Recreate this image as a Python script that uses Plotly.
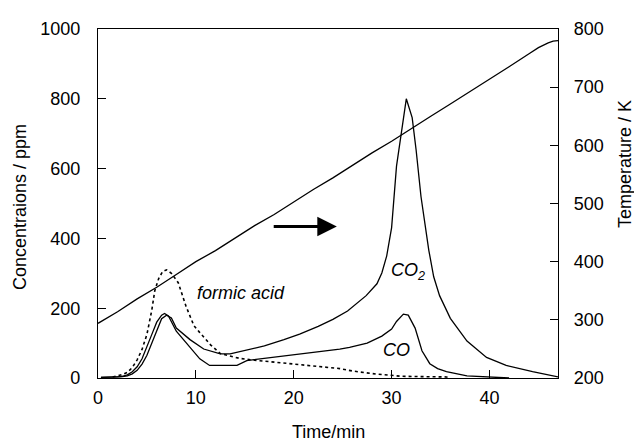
import plotly.graph_objects as go

# ---- data ----
t_co2 = [0.3, 1, 2, 2.5, 3, 3.5, 4, 4.5, 5, 5.5, 6, 6.5, 7, 7.5, 8, 9.4, 10.8, 12.5, 13.5,
         15.0, 17.0, 19.0, 20.6, 22.5, 24, 25.5, 27.4, 28.5, 29.0, 29.5, 30.0, 30.5, 31.0,
         31.5, 32.1, 32.5, 33.0, 33.8, 34.3, 34.9, 36.0, 37.7, 39.7, 41.7, 44.4, 46.5, 47]
co2 = [2, 2, 3, 4, 6, 12, 22, 40, 65, 100, 140, 170, 180, 172, 143, 110, 83, 69, 69,
       78, 92, 110, 126, 148, 168, 192, 236, 270, 301, 350, 431, 607, 705,
       800, 746, 654, 520, 366, 290, 236, 171, 106, 59, 36, 18, 5, 3]

t_co = [0.3, 1, 2, 2.5, 3, 3.5, 4, 4.5, 5, 5.5, 6, 6.5, 6.8, 7.2, 8, 9.4, 10.4, 11.4, 12.5,
        14.2, 15.2, 17.5, 19.6, 20.6, 22.5, 24.7, 25.7, 27.5, 29.0, 30.0, 30.5, 31.2, 31.7,
        32.4, 33.1, 33.9, 34.7, 35.6, 37.7, 39.7, 41, 42]
co = [2, 2, 3, 5, 9, 18, 32, 55, 88, 125, 160, 180, 185, 178, 134, 87, 55, 36, 36,
      36, 50, 58, 64, 69, 75, 83, 88, 100, 120, 140, 162, 183, 180,
      143, 78, 41, 27, 18, 6, 3, 1, 0]

t_fa = [1.5, 2, 2.5, 3, 3.5, 4, 4.5, 5, 5.5, 5.8, 6.2, 6.6, 7.0, 7.5, 8.2, 9.0, 9.8, 10.4,
        11.5, 12.5, 13.5, 14.5, 16, 17.5, 19.6, 20.6, 22, 23.5, 24.7, 26, 27, 28.5, 29.8,
        31, 33, 35.6, 36]
formic = [3, 6, 10, 16, 30, 52, 82, 125, 195, 250, 285, 305, 310, 300, 273, 205, 150, 130,
          95, 70, 62, 56, 51, 47, 42, 40, 36, 31, 27, 20, 16, 11, 8,
          5, 4, 3, 0]

t_temp = [0, 2, 4, 6, 8, 10, 12, 14, 16, 18, 20, 22, 24, 26, 28, 30, 32, 34, 36, 38, 40,
          42, 44, 45, 46, 46.5, 47]
temp = [294, 314, 336, 356, 378, 400, 419, 440, 462, 481, 503, 524, 544, 566, 587, 607, 629,
        650, 671, 692, 714, 735, 757, 768, 776, 779, 780]

x_ticks = [0, 10, 20, 30, 40]
y_ticks = [0, 200, 400, 600, 800, 1000]
y2_ticks = [200, 300, 400, 500, 600, 700, 800]

FONT = "Liberation Sans, Arial, Helvetica, sans-serif"
BLACK = "#000000"

fig = go.Figure()
fig.add_trace(go.Scatter(x=t_co2, y=co2, mode="lines", line=dict(color=BLACK, width=1.3),
                         name="CO2", showlegend=False))
fig.add_trace(go.Scatter(x=t_co, y=co, mode="lines", line=dict(color=BLACK, width=1.3),
                         name="CO", showlegend=False))
fig.add_trace(go.Scatter(x=t_fa, y=formic, mode="lines",
                         line=dict(color=BLACK, width=1.6, dash="dot"),
                         name="formic acid", showlegend=False))
fig.add_trace(go.Scatter(x=t_temp, y=temp, mode="lines", yaxis="y2",
                         line=dict(color=BLACK, width=1.3),
                         name="Temperature", showlegend=False))

axis_common = dict(showgrid=False, zeroline=False, showline=True, linecolor=BLACK,
                   linewidth=1.3, ticks="inside", ticklen=8, tickwidth=1.2, tickcolor=BLACK,
                   tickfont=dict(family=FONT, size=18, color=BLACK))

# the page body has an 8px margin, so the figure is 8px smaller on each side
fig.update_layout(
    width=634, height=434,
    margin=dict(l=90, r=84, t=11, b=64),
    paper_bgcolor="white", plot_bgcolor="white",
    xaxis=dict(range=[0, 47], tickvals=x_ticks, mirror=True, ticklabelstandoff=3,
               **axis_common),
    yaxis=dict(range=[0, 1000], tickvals=y_ticks, mirror=False, ticklabelstandoff=13,
               **axis_common),
    yaxis2=dict(range=[200, 800], tickvals=y2_ticks, overlaying="y", side="right",
                ticklabelstandoff=11, **axis_common),
    font=dict(family=FONT, size=18, color=BLACK),
)

ann = []
ann.append(dict(text="Concentraions / ppm", xref="paper", yref="paper", x=0, y=0.49,
                xshift=-78, textangle=-90, showarrow=False, xanchor="center",
                yanchor="middle", font=dict(size=18)))
ann.append(dict(text="Temperature / K", xref="paper", yref="paper", x=1, y=0.613,
                xshift=67, textangle=-90, showarrow=False, xanchor="center",
                yanchor="middle", font=dict(size=18)))
ann.append(dict(text="Time/min", xref="paper", yref="paper", x=0.5, y=0,
                yshift=-54, showarrow=False, xanchor="center", yanchor="middle",
                font=dict(size=18)))
ann.append(dict(text="<i>formic acid</i>", xref="x", yref="y", x=14.6, y=245,
                showarrow=False, xanchor="center", yanchor="middle", font=dict(size=18)))
ann.append(dict(text="<i>CO<sub>2</sub></i>", xref="x", yref="y", x=31.7, y=305,
                showarrow=False, xanchor="center", yanchor="middle", font=dict(size=18)))
ann.append(dict(text="<i>CO</i>", xref="x", yref="y", x=30.5, y=81,
                showarrow=False, xanchor="center", yanchor="middle", font=dict(size=18)))
ann.append(dict(text="", xref="x", yref="y", x=24.4, y=434, axref="x", ayref="y",
                ax=17.8, ay=434, showarrow=True, arrowhead=2, arrowsize=1.3,
                arrowwidth=3, arrowcolor=BLACK))
fig.update_layout(annotations=ann)

fig.write_html("out.html")
